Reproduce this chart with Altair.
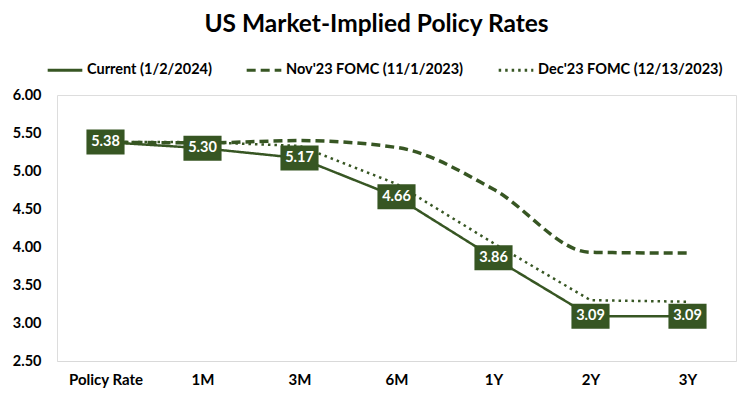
import altair as alt
import pandas as pd

tenors = ["Policy Rate", "1M", "3M", "6M", "1Y", "2Y", "3Y"]
series_names = ["Current (1/2/2024)", "Nov'23 FOMC (11/1/2023)", "Dec'23 FOMC (12/13/2023)"]
current = [5.38, 5.30, 5.17, 4.66, 3.86, 3.09, 3.09]
nov23 = [5.38, 5.37, 5.40, 5.31, 4.76, 3.93, 3.92]
dec23 = [5.38, 5.38, 5.33, 4.83, 4.05, 3.30, 3.28]
y_ticks = [2.5, 3.0, 3.5, 4.0, 4.5, 5.0, 5.5, 6.0]

rows = []
for name, vals in zip(series_names, [current, nov23, dec23]):
    for t, v in zip(tenors, vals):
        rows.append({"tenor": t, "series": name, "rate": v})
df = pd.DataFrame(rows)

GREEN = "#375623"
FONT = "Lato"

x = alt.X("tenor:N", sort=tenors, scale=alt.Scale(type="point", padding=0.5),
          axis=alt.Axis(title=None, labelAngle=0, ticks=False, domainColor="#D9D9D9",
                        labelPadding=11, labelFont=FONT, labelFontWeight="bold",
                        labelFontSize=15, labelColor="black"))
y = alt.Y("rate:Q", scale=alt.Scale(domain=[2.5, 6.0], nice=False, zero=False),
          axis=alt.Axis(title=None, values=y_ticks, labelOverlap=False, labelFlush=False,
                        tickCount=8, format=".2f", grid=False, domain=False, ticks=False,
                        labelPadding=16, labelFont=FONT, labelFontWeight="bold",
                        labelFontSize=14.5, labelColor="black"))

leg = dict(title=None, orient="none", direction="horizontal",
           legendX=-11, legendY=-44, symbolType="stroke",
           symbolSize=1200, symbolStrokeWidth=3, labelFont=FONT,
           labelFontWeight="bold", labelFontSize=14.5,
           labelColor="black", labelLimit=300, columnPadding=28,
           labelOffset=3)
color = alt.Color("series:N", scale=alt.Scale(domain=series_names, range=[GREEN, GREEN, GREEN]),
                  legend=alt.Legend(**leg))
dash = alt.StrokeDash("series:N", scale=alt.Scale(domain=series_names,
                                                  range=[[1, 0], [9, 5], [2.5, 4]]),
                      legend=alt.Legend(**leg))

base = alt.Chart(df).encode(x=x, y=y, color=color, strokeDash=dash)

nov_line = base.transform_filter(alt.datum.series == series_names[1]).mark_line(
    strokeWidth=3.5, interpolate="monotone")
dec_line = base.transform_filter(alt.datum.series == series_names[2]).mark_line(
    strokeWidth=2.5)
cur_line = base.transform_filter(alt.datum.series == series_names[0]).mark_line(
    strokeWidth=2.5)

cur = alt.Chart(df).transform_filter(alt.datum.series == series_names[0]).encode(x=x, y=y)
boxes = cur.mark_point(
    shape="M-1.57,-1 L1.57,-1 L1.57,1 L-1.57,1 Z", size=529, filled=True,
    fill=GREEN, stroke=GREEN, opacity=1
)
labels = cur.mark_text(color="white", font=FONT, fontWeight="bold", fontSize=14.5,
                       baseline="middle", align="center").encode(
    text=alt.Text("rate:Q", format=".2f"))

chart = alt.layer(nov_line, dec_line, cur_line, boxes, labels).properties(
    width=679, height=266,
    title=alt.TitleParams("US Market-Implied Policy Rates", font=FONT, fontSize=24.5,
                          fontWeight="bold", color="black", anchor="middle", dx=-20,
                          offset=14),
    autosize=alt.AutoSizeParams(type="none"),
    padding={"left": 49, "top": 87, "right": 8, "bottom": 30},
).configure_view(stroke=None).configure(background="white")

chart.save("out.html", embed_options={"renderer": "svg", "actions": False})
